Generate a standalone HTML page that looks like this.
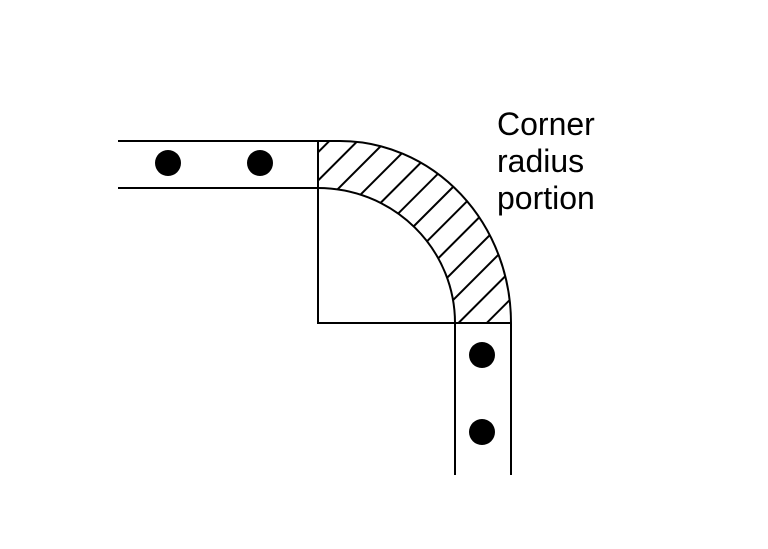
<!DOCTYPE html>
<html><head><style>html,body{margin:0;padding:0;background:#fff}</style></head><body>
<svg width="768" height="544" xmlns="http://www.w3.org/2000/svg">
<defs>
<pattern id="h" patternUnits="userSpaceOnUse" width="20" height="20" patternTransform="rotate(45 318 141)">
<line x1="6" y1="-5" x2="6" y2="25" stroke="#000" stroke-width="2"/>
</pattern>
</defs>
<path d="M318,141 L340,141 A171,182 0 0 1 511,323 L455,323 A137,135 0 0 0 318,188 Z" fill="url(#h)"/>
<g fill="none" stroke="#000" stroke-width="2">
<path d="M118,141 L340,141 A171,182 0 0 1 511,323 L511,475"/>
<path d="M118,188 L318,188 A137,135 0 0 1 455,323 L455,475"/>
<path d="M318,141 L318,323 L511,323"/>
</g>
<g fill="#000">
<circle cx="168" cy="163" r="13"/><circle cx="260" cy="163" r="13"/>
<circle cx="482" cy="355" r="13"/><circle cx="482" cy="432" r="13"/>
</g>
<g font-family="Liberation Sans, sans-serif" font-size="32" fill="#000">
<text x="497" y="135">Corner</text>
<text x="497" y="172">radius</text>
<text x="497" y="209">portion</text>
</g>
</svg>
</body></html>
